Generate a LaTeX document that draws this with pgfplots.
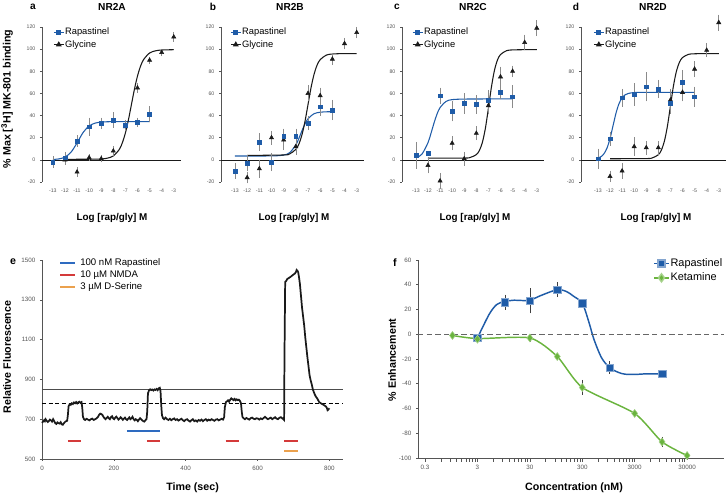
\documentclass[border=0pt]{standalone}
\usepackage{fontspec}
\setmainfont{Liberation Sans}
\usepackage{pgfplots}
\pgfplotsset{compat=1.18}

\definecolor{rapblue}{HTML}{1F5CA8}
\definecolor{glyblack}{HTML}{1A1A1A}
\definecolor{ebar}{HTML}{8A8A8A}
\definecolor{tickgray}{HTML}{555555}
\definecolor{kgreen}{HTML}{6AB43E}
\definecolor{barblue}{HTML}{2E6BC0}
\definecolor{barred}{HTML}{D43A3A}
\definecolor{barorange}{HTML}{EBA14E}

\pgfplotsset{
  ebars/.style={error bars/y dir=both, error bars/y explicit,
    error bars/error bar style={#1, line width=0.4pt},
    error bars/error mark options={#1, mark size=1pt, line width=0.4pt}},
  binding/.style={
    scale only axis, width=#1, height=116.25pt, anchor=south west,
    ymin=-20, ymax=120, ytick={-20,0,...,120},
    xmax=-2.4, xtick={-13,...,-3},
    axis y line*=left, axis x line*=bottom,
    x axis line style={draw=none},
    x tick style={draw=none},
    y axis line style={tickgray, line width=0.5pt},
    y tick style={tickgray, line width=0.4pt},
    tick align=outside, major tick length=1.5pt,
    ticklabel style={font=\fontsize{3.9}{4}\selectfont, text=tickgray},
    /pgf/number format/assume math mode=true,
    clip=false,
    legend style={draw=none, fill=none, font=\fontsize{7}{7}\selectfont,
      anchor=north west, row sep=1.4pt, inner sep=0pt, nodes={inner sep=0.6pt}},
    legend cell align=left,
    legend image code/.code={\draw[mark repeat=2, mark phase=2, ##1]
      plot coordinates {(0pt,0pt) (3.75pt,0pt) (7.5pt,0pt)};},
  },
  rapcurve/.style={rapblue, line width=0.8pt, smooth, forget plot},
  glycurve/.style={glyblack, line width=0.8pt, smooth, forget plot},
  rapdata/.style={only marks, mark=square*, mark size=1.4pt, rapblue, forget plot, ebars=ebar},
  glydata/.style={only marks, mark=triangle*, mark size=1.8pt, glyblack, forget plot, ebars=ebar},
  zeroline/.style={glyblack, line width=0.5pt, forget plot},
}

\newcommand{\legAD}{%
  \addlegendimage{solid, rapblue, line width=0.8pt, mark=square*, mark size=1.4pt}
  \addlegendentry{Rapastinel}
  \addlegendimage{solid, glyblack, line width=0.8pt, mark=triangle*, mark size=1.8pt}
  \addlegendentry{Glycine}}

\begin{document}
\begin{tikzpicture}
\useasboundingbox (0,0) rectangle (546pt,371.25pt);

% ---------- a: NR2A
\begin{axis}[binding=104.25pt, at={(31.5pt,234.75pt)}, xmin=-13.9,
  legend style={at={(axis description cs:0.079,1.0)}}]
\legAD
\addplot[zeroline] coordinates {(-13.9,0) (-2.4,0)};
\addplot[rapcurve] coordinates {(-13,0.35) (-12.5,0.84) (-12,2.5) (-11.5,6.9) (-11,15.3) (-10.5,24.7) (-10,30.6) (-9.5,33.2) (-9,34.1) (-8.5,34.4) (-8,34.5) (-7,34.5) (-6,34.5) (-5,34.5)};
\addplot[glycurve] coordinates {(-12,0.5) (-10,0.55) (-9,0.8) (-8.5,1.5) (-8,3.5) (-7.5,9.5) (-7.25,15.5) (-7,24.3) (-6.75,36.1) (-6.5,50) (-6.25,63.9) (-6,75.7) (-5.75,84.5) (-5.5,90.5) (-5,96.5) (-4.5,98.5) (-4,99.2) (-3,99.5)};
\addplot[glydata] coordinates {(-12,0) +- (0,3) (-11,-11) +- (0,3) (-10,2) +- (0,2) (-9,1) +- (0,2) (-8,8) +- (0,3) (-7,30) +- (0,3) (-6,65) +- (0,3) (-5,90) +- (0,2) (-4,97) +- (0,2) (-3,111) +- (0,3)};
\addplot[rapdata] coordinates {(-13,-2) +- (0,4) (-12,2) +- (0,4) (-11,17) +- (0,4) (-10,30) +- (0,7) (-9,33) +- (0,4) (-8,36) +- (0,6) (-7,31) +- (0,4) (-6,34) +- (0,3) (-5,41) +- (0,6)};
\end{axis}

% ---------- b: NR2B
\begin{axis}[binding=107.25pt, at={(165.75pt,234.75pt)}, xmin=-14.15,
  legend style={at={(axis description cs:0.063,1.0)}}]
\legAD
\addplot[zeroline] coordinates {(-14.15,0) (-2.4,0)};
\addplot[rapcurve] coordinates {(-13,3.5) (-10,3.55) (-9,4.3) (-8.5,6.6) (-8,13.5) (-7.75,19.4) (-7.5,26.2) (-7.25,32.5) (-7,37.1) (-6.5,41.7) (-6,43) (-5.5,43.4) (-5,43.5)};
\addplot[glycurve] coordinates {(-12,4) (-9,4.4) (-8.5,5.4) (-8,9.5) (-7.75,14.3) (-7.5,22.5) (-7.25,34.7) (-7,50) (-6.75,65.3) (-6.5,77.5) (-6.25,85.7) (-6,90.5) (-5.5,94.6) (-5,95.6) (-4,96) (-3,96)};
\addplot[glydata] coordinates {(-12,-16) +- (0,4) (-11,-8) +- (0,7) (-10,20) +- (0,5) (-9,18) +- (0,8) (-8,12) +- (0,6) (-7,60) +- (0,6) (-6,58) +- (0,6) (-5,91) +- (0,4) (-4,105) +- (0,4) (-3,115) +- (0,4)};
\addplot[rapdata] coordinates {(-13,-10) +- (0,6) (-12,-3) +- (0,6) (-11,16) +- (0,7) (-10,-2) +- (0,7) (-9,21) +- (0,6) (-8,21) +- (0,6) (-7,33) +- (0,5) (-6,48) +- (0,7) (-5,45) +- (0,8)};
\end{axis}

% ---------- c: NR2C
\begin{axis}[binding=106.5pt, at={(301.5pt,234.75pt)}, xmin=-14.15,
  legend style={at={(axis description cs:0.07,1.0)}}]
\legAD
\addplot[zeroline] coordinates {(-14.15,0) (-2.4,0)};
\addplot[rapcurve] coordinates {(-13,1.8) (-12.5,5.2) (-12,15.5) (-11.75,24) (-11.5,33.3) (-11.25,41.4) (-11,47.2) (-10.5,52.8) (-10,54.4) (-9,54.9) (-7,55) (-5,55)};
\addplot[glycurve] coordinates {(-12,1.5) (-9,1.6) (-8.5,2.2) (-8,4.7) (-7.75,8.4) (-7.5,15.7) (-7.25,28.5) (-7,46.6) (-6.75,65.8) (-6.5,80.9) (-6.25,90.2) (-6,95.1) (-5.5,98.6) (-5,99.3) (-4,99.5) (-3,99.5)};
\addplot[glydata] coordinates {(-12,-5) +- (0,6) (-11,-19) +- (0,6) (-10,15) +- (0,5) (-9,1) +- (0,5) (-8,24) +- (0,5) (-7,49) +- (0,6) (-6,75) +- (0,8) (-5,80) +- (0,4) (-4,106) +- (0,6) (-3,119) +- (0,6)};
\addplot[rapdata] coordinates {(-13,4) +- (0,11) (-12,6) +- (0,0) (-11,58) +- (0,6) (-10,44) +- (0,8) (-9,51) +- (0,8) (-8,50) +- (0,7) (-7,54) +- (0,8) (-6,61) +- (0,5) (-5,57) +- (0,9)};
\end{axis}

% ---------- d: NR2D
\begin{axis}[binding=108.75pt, at={(435.75pt,234.75pt)}, xmin=-14.4,
  legend style={at={(axis description cs:0.083,1.0)}}]
\legAD
\addplot[zeroline] coordinates {(-14.4,0) (-2.4,0)};
\addplot[rapcurve] coordinates {(-13,1.6) (-12.75,2.8) (-12.5,5.5) (-12.25,10.6) (-12,19.2) (-11.75,30.8) (-11.5,42.3) (-11.25,50.9) (-11,56) (-10.75,58.7) (-10.5,59.9) (-10,60.8) (-9,61) (-5,61)};
\addplot[glycurve] coordinates {(-12,1) (-9,1.15) (-8.5,1.75) (-8,4.6) (-7.75,8.8) (-7.5,16.8) (-7.25,30.3) (-7,48.5) (-6.75,66.7) (-6.5,80.2) (-6.25,88.2) (-6,92.4) (-5.5,95.3) (-5,95.8) (-4,96) (-3,96)};
\addplot[glydata] coordinates {(-12,-15) +- (0,4) (-11,-10) +- (0,6) (-10,12) +- (0,7) (-9,11) +- (0,5) (-8,11) +- (0,5) (-7,54) +- (0,9) (-6,61) +- (0,7) (-5,82) +- (0,6) (-4,99) +- (0,5) (-3,124) +- (0,6)};
\addplot[rapdata] coordinates {(-13,1) +- (0,8) (-12,19) +- (0,5) (-11,56) +- (0,7) (-10,59) +- (0,9) (-9,66) +- (0,12) (-8,64) +- (0,7) (-7,51) +- (0,8) (-6,70) +- (0,10) (-5,57) +- (0,8)};
\end{axis}

% ---------- e: calcium trace
\begin{axis}[at={(31.5pt,27pt)}, anchor=south west, scale only axis,
  width=225.75pt, height=149.25pt,
  xmin=0, xmax=838, ymin=500, ymax=1500,
  xtick={0,200,...,800}, ytick={500,700,...,1500},
  axis lines*=left, axis line style={tickgray, line width=0.5pt},
  tick align=outside, major tick length=1.5pt, tick style={tickgray, line width=0.4pt},
  ticklabel style={font=\fontsize{4.7}{5}\selectfont, text=tickgray},
  /pgf/number format/assume math mode=true, /pgf/number format/1000 sep={},
  clip=false]
\addplot[black!70, line width=0.7pt] coordinates {(0,851) (838,851)};
\addplot[black, dash pattern=on 3pt off 2pt, line width=0.7pt] coordinates {(0,781) (838,781)};
\addplot[solid, glyblack, line width=1.3pt] coordinates {
(0,682) (3,688) (6,695) (8,690) (10,700) (13,692) (16,686) (19,690) (22,698) (25,694)
(28,688) (31,700) (34,690) (37,680) (40,676) (43,684) (46,680) (49,678) (52,685) (55,674)
(58,672) (61,680) (64,686) (67,690) (70,692) (72,720) (74,765) (77,775) (80,772) (83,780)
(86,776) (89,784) (92,780) (95,786) (98,779) (101,785) (104,788) (107,782) (110,786) (112,760)
(114,712) (117,700) (120,696) (124,702) (128,698) (132,694) (136,700) (140,703) (144,696) (148,700)
(152,704) (156,712) (159,722) (162,728) (165,726) (168,722) (171,712) (174,705) (177,700) (180,706)
(183,712) (186,705) (189,700) (192,710) (195,715) (198,704) (201,700) (204,708) (207,713) (210,705)
(213,698) (216,703) (219,710) (222,704) (225,697) (228,703) (231,708) (234,700) (237,696) (240,703)
(243,709) (246,700) (249,705) (252,712) (255,700) (258,694) (261,700) (264,696) (267,690) (270,698)
(273,705) (276,700) (279,694) (282,690) (285,688) (288,695) (291,700) (293,740) (295,830) (298,845)
(301,850) (304,846) (307,849) (310,844) (313,850) (316,847) (319,852) (322,846) (325,855) (328,858)
(330,840) (332,770) (334,720) (337,705) (340,700) (344,708) (348,700) (352,696) (356,702) (360,695)
(364,700) (368,704) (372,696) (376,700) (380,693) (384,698) (388,702) (392,695) (396,690) (400,697)
(404,700) (408,693) (412,688) (416,695) (420,700) (424,690) (428,694) (432,688) (436,696) (440,692)
(444,698) (448,690) (452,696) (456,700) (460,692) (464,698) (468,694) (472,700) (476,696) (480,692)
(484,698) (488,700) (492,694) (496,698) (500,702) (504,698) (507,710) (509,760) (512,785) (515,790)
(518,795) (521,788) (524,798) (527,805) (530,800) (533,796) (536,802) (539,795) (542,800) (545,796)
(548,798) (551,792) (554,780) (556,740) (558,712) (561,705) (565,700) (569,706) (573,702) (577,698)
(581,705) (585,708) (589,702) (593,700) (597,705) (601,703) (605,698) (609,704) (613,700) (617,706)
(621,712) (625,705) (629,700) (633,704) (637,708) (641,700) (645,705) (649,710) (653,703) (657,700)
(661,707) (665,710) (669,704) (672,700) (674,696) (675,1000) (677,1390) (680,1395) (683,1405) (686,1408)
(689,1412) (692,1415) (695,1420) (698,1424) (701,1428) (704,1432) (707,1440) (709,1450) (711,1446) (713,1440)
(715,1420) (718,1380) (721,1320) (724,1260) (727,1215) (730,1170) (733,1110) (736,1060) (739,1010) (742,965)
(745,920) (748,895) (751,875) (754,850) (757,835) (760,822) (763,812) (766,805) (769,795) (772,785)
(775,782) (778,778) (781,775) (784,772) (787,768) (790,765) (793,757) (795,745) (797,748) (800,755)};
\addplot[solid, color=barblue, line width=1.3pt] coordinates {(236,639) (329,639)};
\addplot[solid, color=barred, line width=1.3pt] coordinates {(72,592) (109,592)};
\addplot[solid, color=barred, line width=1.3pt] coordinates {(292,592) (329,592)};
\addplot[solid, color=barred, line width=1.3pt] coordinates {(511,592) (548,592)};
\addplot[solid, color=barred, line width=1.3pt] coordinates {(675,592) (712,592)};
\addplot[solid, color=barorange, line width=1.3pt] coordinates {(675,542) (712,542)};
\end{axis}

% ---------- f: enhancement
\begin{axis}[at={(313.5pt,27.75pt)}, anchor=south west, scale only axis,
  width=229.5pt, height=148.5pt,
  xmode=log, xmin=0.22, xmax=152000, ymin=-100, ymax=60,
  ytick={-100,-80,...,60},
  xtick={0.3,3,30,300,3000,30000}, xticklabels={0.3,3,30,300,3000,30000},
  minor xtick={},
  axis lines*=left, axis line style={tickgray, line width=0.5pt},
  tick align=outside, major tick length=1.5pt, tick style={tickgray, line width=0.4pt},
  ticklabel style={font=\fontsize{4.7}{5}\selectfont, text=tickgray},
  /pgf/number format/assume math mode=true,
  clip=false,
  legend style={draw=none, fill=none, font=\fontsize{8.2}{8.2}\selectfont,
    anchor=north west, at={(axis description cs:0.768,1.012)},
    row sep=2pt, inner sep=0pt, nodes={inner sep=0.6pt}},
  legend cell align=left,
  legend image code/.code={\draw[mark repeat=2, mark phase=2, #1]
    plot coordinates {(0pt,0pt) (5.6pt,0pt) (11.25pt,0pt)};}]
\addlegendimage{solid, rapblue, line width=1.1pt, mark=square*, mark size=2.6pt, mark options={solid, fill=rapblue, draw=rapblue!55}}
\addlegendentry{Rapastinel}
\addlegendimage{solid, kgreen, line width=1.1pt, mark=diamond*, mark size=3pt, mark options={solid, fill=kgreen, draw=kgreen!60}}
\addlegendentry{Ketamine}
\addplot[solid, rapblue, line width=1.1pt, smooth, tension=0.5, forget plot] coordinates {(3,-3) (5,16) (7,24) (10,26.5) (15,27.5) (20,27.3) (30,27.5) (50,31.5) (100,36) (150,34.5) (200,31) (300,25) (400,10) (500,-4) (700,-19) (1000,-27) (1500,-31) (2000,-32.3) (3000,-32.5) (5000,-32) (10000,-32)};
\addplot[solid, kgreen, line width=1.1pt, smooth, tension=0.4, forget plot] coordinates {(1,-1) (3,-3.5) (30,-3) (100,-18) (300,-43) (3000,-64) (10000,-87) (30000,-98)};
\addplot[black!60, dash pattern=on 4pt off 2.5pt, line width=0.9pt, forget plot] coordinates {(0.22,0) (152000,0)};
\addplot[solid, only marks, mark=square*, mark size=2.8pt, mark options={solid, fill=rapblue, draw=rapblue!55}, forget plot, ebars=black!75] coordinates {(3,-3) +- (0,2) (10,26) +- (0,5) (30,27) +- (0,9) (100,36) +- (0,5) (300,25) +- (0,2) (1000,-27) +- (0,4) (10000,-32) +- (0,1.5)};
\addplot[solid, only marks, mark=diamond*, mark size=3pt, mark options={solid, fill=kgreen, draw=kgreen!60}, forget plot, ebars=black!75] coordinates {(1,-1) +- (0,2) (3,-4) +- (0,2) (30,-3) +- (0,2) (100,-18) +- (0,2) (300,-43) +- (0,5) (3000,-64) +- (0,2) (10000,-87) +- (0,3) (30000,-98) +- (0,2)};
\end{axis}

% ---------- text
\begin{scope}[every node/.style={font=\bfseries\fontsize{7.6}{8}\selectfont}]
\node at (24.75pt,366pt) {a};
\node at (84pt,366pt) {NR2A};
\node at (159.75pt,366pt) {b};
\node at (217.5pt,366pt) {NR2B};
\node at (297.75pt,366pt) {c};
\node at (354.75pt,366pt) {NR2C};
\node at (432pt,366pt) {d};
\node at (489.75pt,366pt) {NR2D};
\end{scope}
\begin{scope}[every node/.style={font=\bfseries\fontsize{7.4}{9}\selectfont}]
\node at (84pt,207.75pt) {Log [rap/gly] M};
\node at (220.5pt,207.75pt) {Log [rap/gly] M};
\node at (356.25pt,207.75pt) {Log [rap/gly] M};
\node at (492pt,207.75pt) {Log [rap/gly] M};
\end{scope}
\begin{scope}[every node/.style={font=\bfseries\fontsize{8}{9}\selectfont}]
\node[rotate=90] at (5.25pt,297pt) {\% Max [\textsuperscript{3}H] MK-801 binding};
\node at (9.75pt,174.75pt) {e};
\node[rotate=90] at (5.25pt,103.5pt) {Relative Fluorescence};
\node at (144.4pt,5.25pt) {Time (sec)};
\node at (296.25pt,174pt) {f};
\node[rotate=90] at (294pt,101.25pt) {\% Enhancement};
\node at (430.5pt,5.25pt) {Concentration (nM)};
\end{scope}

% legend of e
\draw[barblue, line width=1.3pt] (45pt,174pt) -- (56.25pt,174pt);
\draw[barred, line width=1.3pt] (45pt,165pt) -- (56.25pt,165pt);
\draw[barorange, line width=1.3pt] (45pt,156pt) -- (56.25pt,156pt);
\begin{scope}[every node/.style={anchor=west, inner sep=0pt, font=\fontsize{7.2}{8}\selectfont}]
\node at (60pt,174pt) {100 nM Rapastinel};
\node at (60pt,165pt) {10 µM NMDA};
\node at (60pt,156pt) {3 µM D-Serine};
\end{scope}
\end{tikzpicture}
\end{document}
